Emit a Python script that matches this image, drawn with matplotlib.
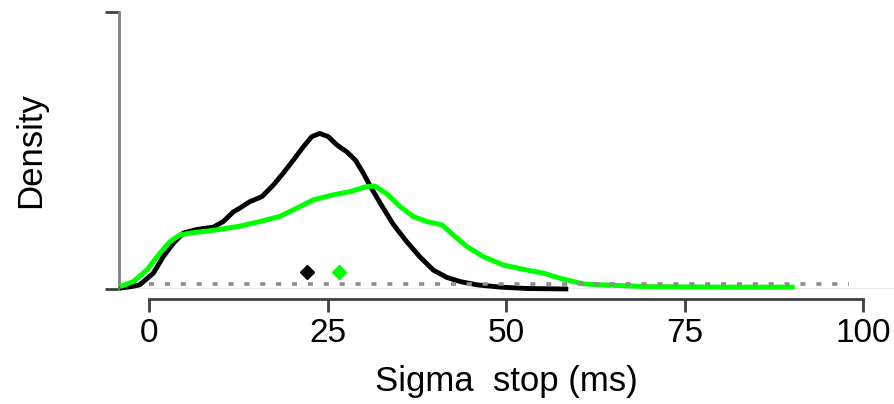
import matplotlib
matplotlib.use("Agg")
import matplotlib.pyplot as plt

# --------------------------
# Données (densités lues par point)
# --------------------------
sigma_black = [-4.1, -2.5, -1.3, 0.6, 2.0, 3.4, 4.8, 6.7, 9.0, 10.4, 11.8, 12.7,
               14.1, 15.8, 17.4, 18.8, 20.2, 21.6, 22.8, 23.9, 25.1, 26.3, 27.7,
               28.9, 30.0, 31.0, 32.6, 34.2, 36.0, 37.9, 39.8, 41.7, 43.6, 45.9,
               49.2, 53.0, 58.7]
dens_black = [0.0002, 0.0005, 0.0009, 0.0034, 0.0070, 0.0099, 0.0121, 0.0129,
              0.0134, 0.0146, 0.0167, 0.0175, 0.0189, 0.0200, 0.0225, 0.0251,
              0.0279, 0.0308, 0.0330, 0.0337, 0.0330, 0.0312, 0.0297, 0.0279,
              0.0251, 0.0222, 0.0180, 0.0140, 0.0104, 0.0070, 0.0041, 0.0025,
              0.0016, 0.0009, 0.0004, 0.0001, 0.0000]

sigma_green = [-4.1, -2.2, -0.3, 1.5, 2.9, 4.3, 6.2, 9.5, 12.7, 15.5, 18.3, 20.7,
               23.0, 25.8, 28.2, 30.5, 31.6, 33.3, 35.2, 37.0, 38.9, 41.0, 42.6,
               44.5, 46.8, 49.6, 52.9, 55.3, 57.6, 60.8, 63.2, 70.0, 80.0, 90.4]
dens_green = [0.0005, 0.0016, 0.0041, 0.0077, 0.0102, 0.0117, 0.0122, 0.0128,
              0.0136, 0.0146, 0.0157, 0.0175, 0.0193, 0.0204, 0.0211, 0.0222,
              0.0223, 0.0206, 0.0178, 0.0157, 0.0146, 0.0139, 0.0117, 0.0092,
              0.0070, 0.0052, 0.0041, 0.0034, 0.0023, 0.0011, 0.0009, 0.0005,
              0.0004, 0.0004]

# moyennes (losanges) et ligne pointillée de référence
mean_black = 22.1
mean_green = 26.65
mean_level = 0.00375
ref_level = 0.0011
ref_range = [0, 98]

xticks = [0, 25, 50, 75, 100]
yticks = [0, 0.06]

# --------------------------
# Figure
# --------------------------
plt.rcParams["font.family"] = ["Liberation Sans", "DejaVu Sans"]

fig = plt.figure(figsize=(8.94, 4.04), dpi=100)
ax = fig.add_axes([0.1331, 0.2847, 0.8669, 0.6856])

ax.axhline(0, color="#e6e6e6", lw=1.5, zorder=1)

ax.plot(sigma_black, dens_black, color="black", lw=3.5, zorder=3,
        solid_capstyle="butt", solid_joinstyle="round", clip_on=False)
ax.plot(sigma_green, dens_green, color="#00ff00", lw=3.6, zorder=4,
        solid_capstyle="butt", solid_joinstyle="round", clip_on=False)

ax.plot(ref_range, [ref_level, ref_level], color="#8c8c8c", lw=2.6,
        dashes=(1.4, 3.0), zorder=5)

ax.plot([mean_black], [mean_level], marker="D", ms=7.5, color="black",
        ls="none", zorder=6)
ax.plot([mean_green], [mean_level], marker="D", ms=7.5, color="#00ff00",
        ls="none", zorder=6)

ax.set_xlim(-4.2, 104.3)
ax.set_ylim(0, 0.06)

# axes à la R : seulement entre les graduations extrêmes
for side in ["top", "right"]:
    ax.spines[side].set_visible(False)
ax.spines["bottom"].set_position(("outward", 7.2))
ax.spines["bottom"].set_bounds(0, 100)
ax.spines["bottom"].set_color("#404040")
ax.spines["bottom"].set_linewidth(2.0)
ax.spines["left"].set_bounds(0, 0.06)
ax.spines["left"].set_color("#808080")
ax.spines["left"].set_linewidth(2.0)

ax.set_xticks(xticks)
ax.set_xticklabels([str(t) for t in xticks])
ax.set_yticks(yticks)
ax.tick_params(axis="x", length=9.5, width=2.0, color="#404040",
               labelsize=24, pad=4)
ax.tick_params(axis="y", length=10, width=2.0, color="#404040",
               labelleft=False)

ax.set_xlabel("Sigma  stop (ms)", fontsize=25, labelpad=12)
ax.set_ylabel("Density", fontsize=25)
ax.yaxis.set_label_coords(-0.093, 0.5)

fig.savefig("out.png", dpi=100)
